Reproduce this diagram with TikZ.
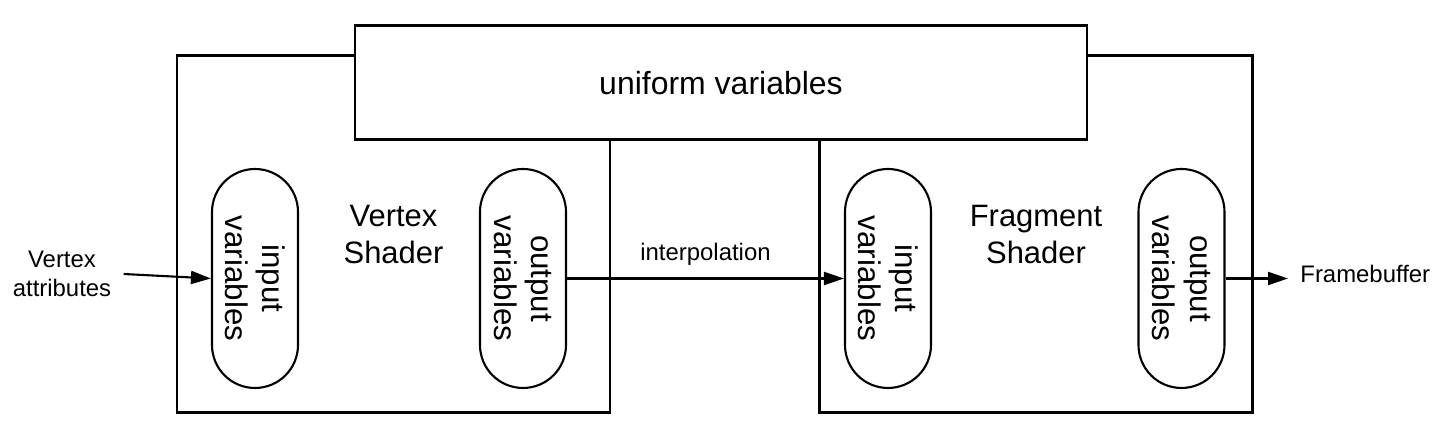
\documentclass[tikz,border=0pt]{standalone}
\usepackage{fontspec}
\setmainfont{Liberation Sans}
\usepackage{tikz}
\usetikzlibrary{arrows.meta,calc}

\begin{document}
\begin{tikzpicture}[
  shaderbox/.style={draw, line width=0.85pt, minimum width=4.33cm, minimum height=3.57cm, align=center, font=\fontsize{8.8}{10.5}\selectfont},
  pill/.style={draw, line width=0.6pt, rounded corners=0.43cm, minimum width=2.19cm, minimum height=0.86cm, inner sep=0pt, rotate=-90, align=center, font=\fontsize{8.9}{10.6}\selectfont},
  lbl/.style={align=center, font=\fontsize{6.8}{8.2}\selectfont},
  flow/.style={-{Triangle[length=0.2cm, width=0.13cm]}, line width=0.6pt}]

\useasboundingbox (0,0) rectangle (14.42,4.42);

\node[shaderbox] (vs) at (3.935,2.075) {Vertex\\Shader};
\node[shaderbox] (fs) at (10.36,2.075) {Fragment\\Shader};
\node[draw, fill=white, line width=0.85pt, minimum width=7.32cm, minimum height=1.14cm, font=\fontsize{9.1}{11}\selectfont] (uni) at (7.21,3.59) {uniform variables};

% rotated pills: south is the left side, north the right side
\node[pill] (vsin) at (2.55,1.635) {input\\variables};
\node[pill] (vsout) at (5.23,1.635) {output\\variables};
\node[pill] (fsin) at (8.88,1.635) {input\\variables};
\node[pill] (fsout) at (11.815,1.635) {output\\variables};

\node[lbl] (attr) at (0.62,1.68) {Vertex\\attributes};
\node[lbl, anchor=west] (fb) at (12.88,1.68) {Framebuffer};

\draw[flow] (attr.east) -- (vsin.south);
\draw[flow] (vsout.north) -- node[lbl, above] {interpolation} (fsin.south);
\draw[flow] (fsout.north) -- (fsout.north -| fb.west);

\end{tikzpicture}
\end{document}
